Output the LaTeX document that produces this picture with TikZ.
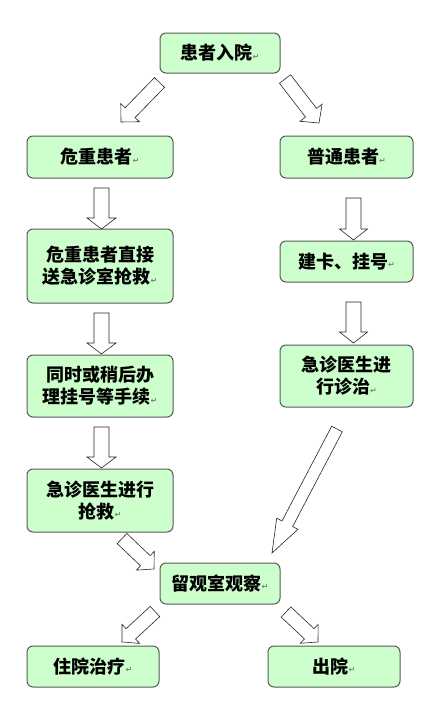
\documentclass[tikz,border=0pt]{standalone}
\usepackage{fontspec}
\usetikzlibrary{calc}
\newfontfamily\cjk{Noto Sans CJK SC}
\newfontfamily\djv{DejaVu Sans}
\definecolor{boxgreen}{HTML}{CCFFCC}
\newcommand\parmk{{\djv\fontsize{8}{8}\selectfont\raisebox{0.5pt}{\textcolor{black!50}{↵}}}}
\tikzset{
  box/.style={draw=black!65, line width=1pt, fill=boxgreen, rounded corners=6pt,
    inner sep=0pt, align=center, font=\cjk\bfseries\fontsize{18}{22}\selectfont},
  barrow/.style={draw=black!85, fill=white, line width=0.6pt, line join=miter},
}
% #1 tail, #2 tip, #3 half shaft width, #4 half head width, #5 head length
\newcommand\blockarrow[5]{%
  \path let \p1=(#1), \p2=(#2), \n1={atan2(\y2-\y1,\x2-\x1)},
    \n2={veclen(\x2-\x1,\y2-\y1)} in \pgfextra{\xdef\baang{\n1}\xdef\balen{\n2}};
  \draw[barrow, shift={(#1)}, rotate=\baang]
    (0,-#3) -- ({\balen-#5},-#3) -- ({\balen-#5},-#4) -- (\balen,0)
    -- ({\balen-#5},#4) -- ({\balen-#5},#3) -- (0,#3) -- cycle;
}
\begin{document}
\begin{tikzpicture}[x=1pt, y=-1pt]
  \useasboundingbox[fill=white] (0,0) rectangle (435,718);
  % nodes
  \node[box, minimum width=120pt, minimum height=40pt] (n0) at (220,53) {患者入院\parmk};
  \node[box, minimum width=146pt, minimum height=42pt] (l1) at (100,157) {危重患者\parmk};
  \node[box, minimum width=146pt, minimum height=74pt] (l2) at (100,266) {危重患者直接\\送急诊室抢救\parmk};
  \node[box, minimum width=146pt, minimum height=62pt] (l3) at (100,386) {同时或稍后办\\理挂号等手续\parmk};
  \node[box, minimum width=146pt, minimum height=63pt] (l4) at (100,500.5) {急诊医生进行\\抢救\parmk};
  \node[box, minimum width=133pt, minimum height=42pt] (r1) at (346.5,157) {普通患者\parmk};
  \node[box, minimum width=133pt, minimum height=41pt] (r2) at (346.5,261.5) {建卡、挂号\parmk};
  \node[box, minimum width=133pt, minimum height=62pt] (r3) at (346.5,376) {急诊医生进\\行诊治\parmk};
  \node[box, minimum width=120pt, minimum height=41pt] (m) at (220,583.5) {留观室观察\parmk};
  \node[box, minimum width=132pt, minimum height=41pt] (b1) at (93,666.5) {住院治疗\parmk};
  \node[box, minimum width=132pt, minimum height=41pt] (b2) at (334,666.5) {出院\parmk};
  % arrow end points
  \coordinate (a1t) at (159.5,82.5); \coordinate (a1h) at (121,122);
  \coordinate (a2t) at (285,79);     \coordinate (a2h) at (319,123);
  \coordinate (a3t) at (101.5,188);  \coordinate (a3h) at (101.5,229);
  \coordinate (a4t) at (101.5,313);  \coordinate (a4h) at (101.5,354);
  \coordinate (a5t) at (101.5,427);  \coordinate (a5h) at (101.5,468);
  \coordinate (a6t) at (353.5,198);  \coordinate (a6h) at (353.5,240);
  \coordinate (a7t) at (353.5,302);  \coordinate (a7h) at (353.5,343);
  \coordinate (a8t) at (122,538.5);  \coordinate (a8h) at (154,569);
  \coordinate (a9t) at (337,429);    \coordinate (a9h) at (272,553);
  \coordinate (a10t) at (155,611.5); \coordinate (a10h) at (122,642);
  \coordinate (a11t) at (286,612);   \coordinate (a11h) at (318,642);
  % block arrows
  \blockarrow{a1t}{a1h}{7}{13}{13}
  \blockarrow{a2t}{a2h}{7}{14}{13}
  \blockarrow{a3t}{a3h}{7.5}{14.5}{11}
  \blockarrow{a4t}{a4h}{7.5}{14.5}{11}
  \blockarrow{a5t}{a5h}{7.5}{14.5}{11}
  \blockarrow{a6t}{a6h}{7.5}{14}{11}
  \blockarrow{a7t}{a7h}{7.5}{14}{11}
  \blockarrow{a8t}{a8h}{7}{13}{12}
  \blockarrow{a9t}{a9h}{6}{12}{33}
  \blockarrow{a10t}{a10h}{7}{13}{12}
  \blockarrow{a11t}{a11h}{7}{13}{12}
\end{tikzpicture}
\end{document}
